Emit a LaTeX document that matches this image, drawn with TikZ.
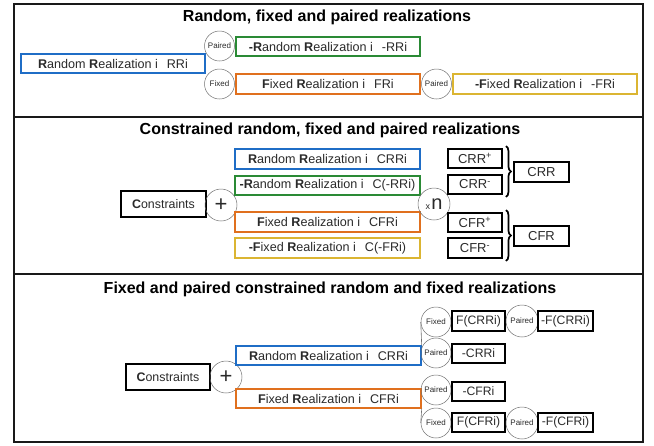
\documentclass[tikz,border=0pt]{standalone}
\usepackage{fontspec}
\setmainfont{Liberation Sans}
\usetikzlibrary{decorations.pathreplacing}
\newcommand{\fsz}[1]{\fontsize{#1}{#1}\selectfont}
\definecolor{cblue}{HTML}{1F6DC6}
\definecolor{cgreen}{HTML}{2A8A35}
\definecolor{corange}{HTML}{E0701E}
\definecolor{cyellow}{HTML}{DBB532}
\definecolor{ctext}{HTML}{2A2A2A}
\definecolor{ccirc}{HTML}{707070}
\begin{document}
\begin{tikzpicture}[x=1pt,y=-1pt,
  colbox/.style={draw=#1, line width=1.4pt, rectangle, minimum width=184pt, minimum height=19pt, inner sep=0pt, font=\fsz{12.6}, text=ctext},
  blkbox/.style={draw=black, line width=1.9pt, rectangle, minimum height=19pt, inner sep=0pt, font=\fsz{12.4}, text=ctext},
  circ/.style={circle, draw=ccirc, line width=0.5pt, minimum size=30pt, inner sep=0pt, font=\fsz{8}, text=ctext},
  ttl/.style={font=\bfseries\fsz{16}, text=black},
  frame/.style={draw=black!90, line width=1.8pt},
  conn/.style={draw=ccirc, line width=0.6pt},
  brc/.style={decorate, decoration={brace, amplitude=5pt}, line width=1.7pt}
]
\useasboundingbox (0,0) rectangle (654,445);
\draw[frame] (14,4) rectangle (643,442);
\draw[frame] (14,117) -- (643,117);
\draw[frame] (14,274) -- (643,274);

% ---------- Panel 1 ----------
\node[ttl] (t1) at (327,17) {Random, fixed and paired realizations};
\node[colbox=cblue] (rri) at (113,63.5) {\textbf{R}andom \textbf{R}ealization i\hspace{9pt}RRi};
\node[circ] (p1) at (219.5,46) {Paired};
\node[circ] (f1) at (219.5,84) {Fixed};
\node[colbox=cgreen] (nrri) at (328,46.5) {\textbf{-R}andom \textbf{R}ealization i\hspace{9pt}-RRi};
\node[colbox=corange, minimum height=20pt] (fri) at (328,84) {\textbf{F}ixed \textbf{R}ealization i\hspace{9pt}FRi};
\node[circ] (p2) at (436.5,84) {Paired};
\node[colbox=cyellow, minimum height=20pt] (nfri) at (545,84) {\textbf{-F}ixed \textbf{R}ealization i\hspace{9pt}-FRi};

% ---------- Panel 2 ----------
\node[ttl] (t2) at (330,130) {Constrained random, fixed and paired realizations};
\node[blkbox, minimum width=85pt, minimum height=26pt] (cons2) at (163.5,204) {\textbf{C}onstraints};
\node[circ, minimum size=32pt, font=\fsz{22}] (plus2) at (221,205) {+};
\node[colbox=cblue, minimum width=185pt, minimum height=20pt] (crri) at (327.5,159) {\textbf{R}andom \textbf{R}ealization i\hspace{9pt}CRRi};
\node[colbox=cgreen, minimum width=185pt] (ncrri) at (327.5,185.5) {\textbf{-R}andom \textbf{R}ealization i\hspace{9pt}C(-RRi)};
\node[colbox=corange, minimum width=185pt, minimum height=20pt] (cfri) at (327.5,222) {\textbf{F}ixed \textbf{R}ealization i\hspace{9pt}CFRi};
\node[colbox=cyellow, minimum width=185pt, minimum height=20pt] (ncfri) at (327.5,248) {\textbf{-F}ixed \textbf{R}ealization i\hspace{9pt}C(-FRi)};
\node[circ, minimum size=32pt] (xn) at (434,204) {{\fsz{9}x}\,{\fsz{20}n}};
\node[blkbox, minimum width=54pt, font=\fsz{13}] (crrp) at (475,158.5) {CRR\textsuperscript{+}};
\node[blkbox, minimum width=54pt, font=\fsz{13}] (crrm) at (475,184.5) {CRR\textsuperscript{-}};
\node[blkbox, minimum width=54pt, font=\fsz{13}] (cfrp) at (475,222.5) {CFR\textsuperscript{+}};
\node[blkbox, minimum width=54pt, minimum height=20pt, font=\fsz{13}] (cfrm) at (475,248) {CFR\textsuperscript{-}};
\node[blkbox, minimum width=55pt, minimum height=20pt, font=\fsz{13}] (crr) at (541.5,172) {CRR};
\node[blkbox, minimum width=55pt, minimum height=20pt, font=\fsz{13}] (cfr) at (541.5,236) {CFR};
\draw[brc] ([xshift=3pt,yshift=2pt]crrp.north east) -- ([xshift=3pt,yshift=-2pt]crrm.south east);
\draw[brc] ([xshift=3pt,yshift=2pt]cfrp.north east) -- ([xshift=3pt,yshift=-2pt]cfrm.south east);

% ---------- Panel 3 ----------
\node[ttl] (t3) at (330,289) {Fixed and paired constrained random and fixed realizations};
\node[blkbox, minimum width=84pt, minimum height=26pt] (cons3) at (168,377) {\textbf{C}onstraints};
\node[circ, minimum size=32pt, font=\fsz{22}] (plus3) at (226,377) {+};
\node[colbox=cblue, minimum width=185pt] (crri3) at (328.5,355.5) {\textbf{R}andom \textbf{R}ealization i\hspace{9pt}CRRi};
\node[colbox=corange, minimum width=185pt] (cfri3) at (328.5,398.5) {\textbf{F}ixed \textbf{R}ealization i\hspace{9pt}CFRi};
\node[circ] (fx1) at (436,322) {Fixed};
\node[blkbox, minimum width=53pt, minimum height=20pt, font=\fsz{12.2}] (fcrr) at (478.5,321) {F(CRRi)};
\node[circ, minimum size=32pt] (pa1) at (522,321) {Paired};
\node[blkbox, minimum width=55pt, minimum height=20pt, font=\fsz{12.2}] (nfcrr) at (565.5,321) {-F(CRRi)};
\node[circ] (pa2) at (436,353) {Paired};
\node[blkbox, minimum width=53pt, font=\fsz{12.2}] (ncrr) at (478.5,353.5) {-CRRi};
\node[circ] (pa3) at (436,390) {Paired};
\node[blkbox, minimum width=53pt, font=\fsz{12.2}] (ncfr) at (478.5,391.5) {-CFRi};
\node[circ] (fx2) at (436,423) {Fixed};
\node[blkbox, minimum width=53pt, font=\fsz{12.2}] (fcfr) at (478.5,422.5) {F(CFRi)};
\node[circ, minimum size=32pt] (pa4) at (522,423) {Paired};
\node[blkbox, minimum width=55pt, font=\fsz{12.2}] (nfcfr) at (565.5,422.5) {-F(CFRi)};
\draw[conn] (crri3.north east) -- (fx1.west);
\draw[conn] (cfri3.south east) -- (fx2.west);
\end{tikzpicture}
\end{document}
